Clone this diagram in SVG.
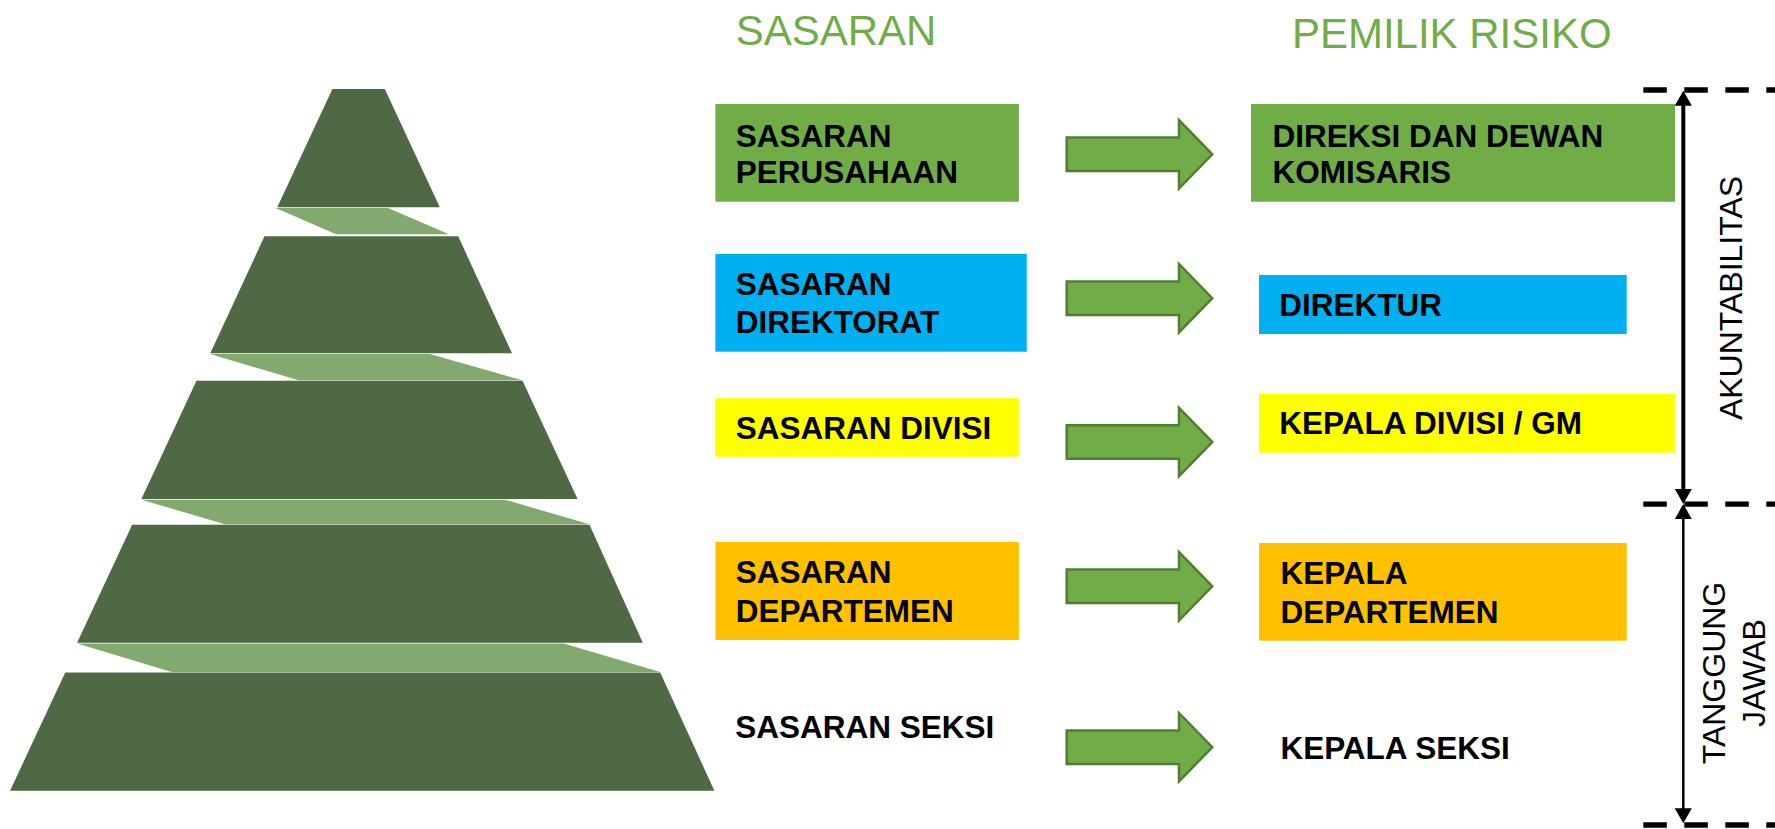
<svg xmlns="http://www.w3.org/2000/svg" width="1775" height="829" viewBox="0 0 1775 829">
  <style>
    .dark { fill: #4E6943; }
    .light { fill: #82AA6E; }
    .hdr { font-family: "Liberation Sans", Arial, sans-serif; font-size: 42px; fill: #70AD47; }
    .lbl { font-family: "Liberation Sans", Arial, sans-serif; font-size: 31.5px; font-weight: bold; fill: #000; }
    .side { font-family: "Liberation Sans", Arial, sans-serif; font-size: 32px; fill: #000; }
    .arrow { fill: #70AD47; stroke: #507E32; stroke-width: 2.5; stroke-linejoin: miter; }
    .dash { stroke: #000; stroke-width: 5.3; stroke-dasharray: 23.5 17.5; fill: none; }
    .green { fill: #70AD47; }
    .blue { fill: #00B0F0; }
    .yellow { fill: #FFFF00; }
    .orange { fill: #FFC000; }
  </style>
  <defs>
    <path id="blockArrow" d="M0,-16.7 H112.3 V-34.2 L145.6,0 L112.3,34.2 V16.7 H0 Z"/>
    <marker id="head" viewBox="0 0 15 17" markerWidth="15" markerHeight="17" refX="5" refY="8.5" orient="auto-start-reverse" markerUnits="userSpaceOnUse">
      <path d="M0,0 L15,8.5 L0,17 Z" fill="#000"/>
    </marker>
  </defs>

  <rect width="1775" height="829" fill="#FFFFFF"/>

  <g id="pyramid">
    <polygon class="dark" points="332.4,89 384.8,89 439.8,207.3 277.3,207.3"/>
    <polygon class="light" points="275.5,208 388,208 449,234.3 336.1,234.3"/>
    <polygon class="dark" points="264.5,236.3 458.2,236.3 512,353.3 210.3,353.3"/>
    <polygon class="light" points="210.3,354 429.8,354 522.5,380.3 298.4,380.3"/>
    <polygon class="dark" points="196.5,380.8 522.5,380.8 577.6,499 141.4,499"/>
    <polygon class="light" points="141.4,499.7 505,499.7 589.5,524.3 225,524.3"/>
    <polygon class="dark" points="132.2,524.8 589.5,524.8 642.8,642.7 77.1,642.7"/>
    <polygon class="light" points="77.1,643.4 563.8,643.4 660.2,672 171.7,672"/>
    <polygon class="dark" points="65.2,672.5 660.2,672.5 714.4,790.7 10.1,790.7"/>
  </g>

  <g id="headers">
    <text class="hdr" x="735.7" y="45">SASARAN</text>
    <text class="hdr" x="1291.9" y="47.5">PEMILIK RISIKO</text>
  </g>

  <g id="sasaran-perusahaan">
    <rect class="green" x="715.4" y="104" width="303.5" height="97.7"/>
    <text class="lbl" x="735.7" y="146.7">SASARAN</text>
    <text class="lbl" x="735.7" y="182.7">PERUSAHAAN</text>
  </g>
  <g id="sasaran-direktorat">
    <rect class="blue" x="715.4" y="254" width="311.4" height="97.7"/>
    <text class="lbl" x="735.7" y="295">SASARAN</text>
    <text class="lbl" x="735.7" y="333">DIREKTORAT</text>
  </g>
  <g id="sasaran-divisi">
    <rect class="yellow" x="715.4" y="398.3" width="303.5" height="58.4"/>
    <text class="lbl" x="735.7" y="439">SASARAN DIVISI</text>
  </g>
  <g id="sasaran-departemen">
    <rect class="orange" x="715.4" y="542" width="303.5" height="98"/>
    <text class="lbl" x="735.7" y="583.3">SASARAN</text>
    <text class="lbl" x="735.7" y="622.3">DEPARTEMEN</text>
  </g>
  <g id="sasaran-seksi">
    <text class="lbl" x="735.3" y="738.3">SASARAN SEKSI</text>
  </g>

  <g id="direksi">
    <rect class="green" x="1251" y="104" width="424" height="97.7"/>
    <text class="lbl" x="1272.4" y="146.7">DIREKSI DAN DEWAN</text>
    <text class="lbl" x="1272.4" y="182.7">KOMISARIS</text>
  </g>
  <g id="direktur">
    <rect class="blue" x="1259" y="275" width="367.7" height="59"/>
    <text class="lbl" x="1279.3" y="316">DIREKTUR</text>
  </g>
  <g id="kepala-divisi">
    <rect class="yellow" x="1259" y="394" width="416" height="58.7"/>
    <text class="lbl" x="1279.3" y="434.3">KEPALA DIVISI / GM</text>
  </g>
  <g id="kepala-departemen">
    <rect class="orange" x="1259" y="543" width="367.7" height="97.7"/>
    <text class="lbl" x="1280.4" y="584">KEPALA</text>
    <text class="lbl" x="1280.4" y="623.3">DEPARTEMEN</text>
  </g>
  <g id="kepala-seksi">
    <text class="lbl" x="1280.4" y="759.3">KEPALA SEKSI</text>
  </g>

  <g id="connectors">
    <use href="#blockArrow" class="arrow" transform="translate(1066.7,154.3)"/>
    <use href="#blockArrow" class="arrow" transform="translate(1066.7,298.2)"/>
    <use href="#blockArrow" class="arrow" transform="translate(1066.7,442)"/>
    <use href="#blockArrow" class="arrow" transform="translate(1066.7,586.3)"/>
    <use href="#blockArrow" class="arrow" transform="translate(1066.7,747.2)"/>

    <line class="dash" x1="1643.3" y1="90" x2="1775" y2="90"/>
    <line class="dash" x1="1643.3" y1="504.2" x2="1775" y2="504.2"/>
    <line class="dash" x1="1643.3" y1="825" x2="1775" y2="825"/>

    <line x1="1683.3" y1="100.7" x2="1683.3" y2="494" stroke="#000" stroke-width="4" marker-start="url(#head)" marker-end="url(#head)"/>
    <line x1="1683.3" y1="514" x2="1683.3" y2="813.3" stroke="#000" stroke-width="2.5" marker-start="url(#head)" marker-end="url(#head)"/>
  </g>

  <g id="akuntabilitas">
    <text class="side" text-anchor="middle" transform="translate(1741.7,298) rotate(-90)">AKUNTABILITAS</text>
  </g>
  <g id="tanggung-jawab">
    <text class="side" text-anchor="middle" transform="translate(1725,673) rotate(-90)">TANGGUNG</text>
    <text class="side" text-anchor="middle" transform="translate(1765,673) rotate(-90)">JAWAB</text>
  </g>
</svg>
